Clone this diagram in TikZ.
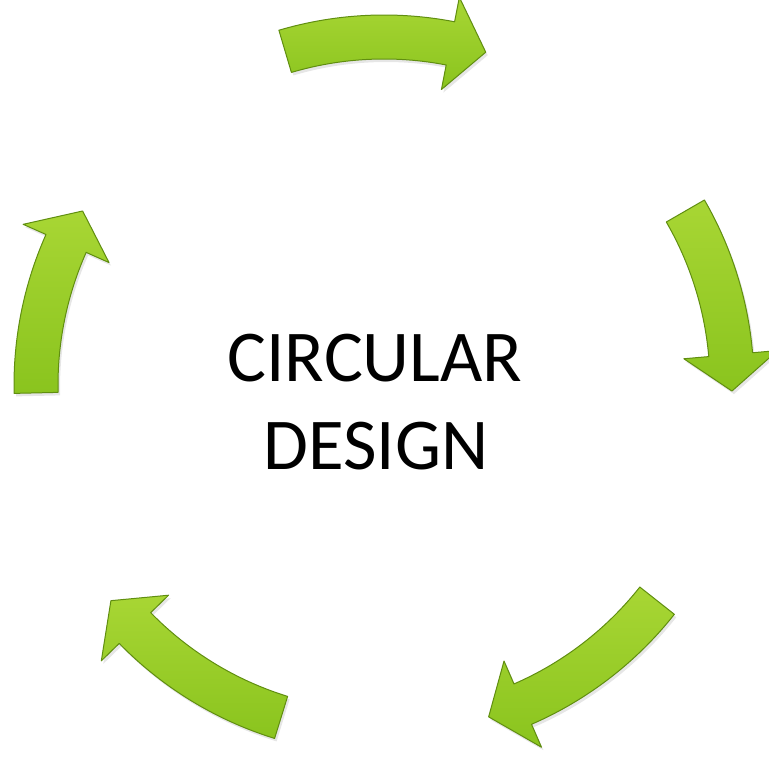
\documentclass[tikz,border=0pt]{standalone}
\usepackage{fontspec}
\setmainfont{Carlito}
\usetikzlibrary{positioning,shadows}

\definecolor{arrowlight}{RGB}{168,214,52}
\definecolor{arrowmid}{RGB}{138,196,30}
\definecolor{arrowdark}{RGB}{96,142,16}

\tikzset{
  cyclearrow/.style={draw=arrowdark, line width=1pt, line join=round,
    top color=arrowlight, bottom color=arrowmid,
    drop shadow={opacity=0.2, shadow xshift=2pt, shadow yshift=-3pt}},
  bigtext/.style={font=\fontsize{73}{88}\selectfont, inner sep=0pt}
}

\begin{document}
\begin{tikzpicture}[x=1pt,y=1pt]
  \useasboundingbox (-384,-374) rectangle (385,385);
  % five arrows round the circle, start angle / tip angle
  \foreach \s/\t in {106.5/73, 30/-1, -38.3/-72.5, -107.2/-141.7, 181.3/150}{
    \pgfmathsetmacro{\b}{\t+6}
    \draw[cyclearrow] (\s:370) arc[start angle=\s, end angle=\b, radius=370]
      -- (\b:395) -- (\t:348) -- (\b:301) -- (\b:326)
      arc[start angle=\b, end angle=\s, radius=326] -- cycle;
  }
  \node[bigtext, anchor=base] (circ) at (-9,3) {CIRCULAR};
  \node[bigtext, anchor=base] (design) at (-8,-85) {DESIGN};
\end{tikzpicture}
\end{document}
